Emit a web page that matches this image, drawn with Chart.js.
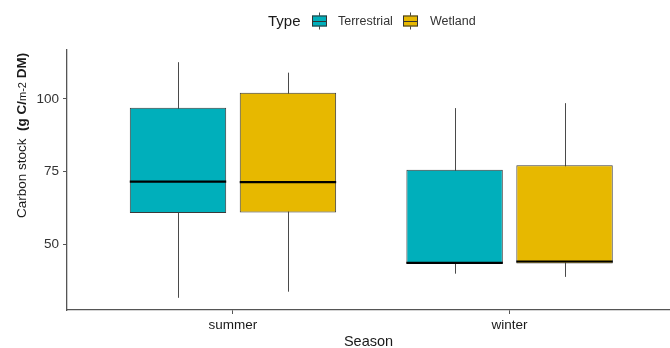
<!DOCTYPE html>
<html>
<head>
<meta charset="utf-8">
<script src="https://cdn.jsdelivr.net/npm/chart.js@4.4.1/dist/chart.umd.min.js"></script>
<style>
  html, body { margin: 0; padding: 0; background: #fff; overflow: hidden; }
  #wrap { width: 670px; height: 348px; }
</style>
</head>
<body>
<div id="wrap"><canvas id="c" width="670" height="348"></canvas></div>
<script>
// Season categories and box statistics per Type
const categories = ['summer', 'winter'];
const yTicks = [50, 75, 100];

const terrestrialMin    = [31.5, 39.8];
const terrestrialQ1     = [60.7, 43.3];
const terrestrialMedian = [71.5, 43.5];
const terrestrialQ3     = [96.9, 75.6];
const terrestrialMax    = [112.6, 96.8];

const wetlandMin    = [33.6, 38.7];
const wetlandQ1     = [60.9, 43.3];
const wetlandMedian = [71.3, 44.0];
const wetlandQ3     = [102.1, 77.1];
const wetlandMax    = [109.0, 98.5];

const TEAL = '#00AFBB';
const GOLD = '#E7B800';
const AXIS = '#555555';
const FONT = '"Liberation Sans", Arial, sans-serif';

function boxData(q1, q3) {
  return categories.map((c, i) => ({ x: i + 1, y: [q1[i], q3[i]] }));
}

const stats = [
  { min: terrestrialMin, median: terrestrialMedian, max: terrestrialMax },
  { min: wetlandMin, median: wetlandMedian, max: wetlandMax }
];

// whiskers behind the boxes, medians on top
const boxPlotPlugin = {
  id: 'boxPlot',
  beforeDatasetsDraw(chart) {
    const ctx = chart.ctx, y = chart.scales.y;
    ctx.save();
    ctx.strokeStyle = '#4a4a4a';
    ctx.lineWidth = 1;
    chart.data.datasets.forEach((ds, d) => {
      chart.getDatasetMeta(d).data.forEach((el, i) => {
        const x = Math.round(el.x) + 0.5;
        ctx.beginPath();
        ctx.moveTo(x, y.getPixelForValue(stats[d].max[i]));
        ctx.lineTo(x, y.getPixelForValue(stats[d].min[i]));
        ctx.stroke();
      });
    });
    ctx.restore();
  },
  afterDatasetsDraw(chart) {
    const ctx = chart.ctx, y = chart.scales.y;
    ctx.save();
    ctx.strokeStyle = '#000';
    ctx.lineWidth = 2.2;
    chart.data.datasets.forEach((ds, d) => {
      chart.getDatasetMeta(d).data.forEach((el, i) => {
        const py = y.getPixelForValue(stats[d].median[i]);
        const half = el.width / 2;
        ctx.beginPath();
        ctx.moveTo(el.x - half, py);
        ctx.lineTo(el.x + half, py);
        ctx.stroke();
      });
    });
    ctx.restore();
  }
};

// rotated y-axis title with mixed weights
const yTitlePlugin = {
  id: 'yTitle',
  afterDraw(chart) {
    const ctx = chart.ctx;
    const parts = [
      { t: 'Carbon stock  ', f: '13.5px ' + FONT },
      { t: '(g C/', f: 'bold 13.5px ' + FONT },
      { t: 'm-2', f: '11px ' + FONT },
      { t: ' DM)', f: 'bold 13.5px ' + FONT }
    ];
    ctx.save();
    ctx.translate(26, 218);
    ctx.rotate(-Math.PI / 2);
    ctx.fillStyle = '#1a1a1a';
    ctx.textBaseline = 'alphabetic';
    let x = 0;
    parts.forEach(p => {
      ctx.font = p.f;
      ctx.fillText(p.t, x, 0);
      x += ctx.measureText(p.t).width;
    });
    ctx.restore();
  }
};

// legend: "Type" followed by box-shaped keys
const legendPlugin = {
  id: 'typeLegend',
  afterDraw(chart) {
    const ctx = chart.ctx;
    const cy = 21;
    ctx.save();
    ctx.textBaseline = 'middle';
    ctx.fillStyle = '#1a1a1a';
    ctx.font = '15px ' + FONT;
    ctx.fillText('Type', 268, cy + 1);
    const keys = [
      { x: 312, color: TEAL, label: chart.data.datasets[0].label, lx: 338 },
      { x: 403, color: GOLD, label: chart.data.datasets[1].label, lx: 430 }
    ];
    keys.forEach(k => {
      const w = 15, h = 11, top = cy - h / 2;
      ctx.strokeStyle = '#4a4a4a';
      ctx.lineWidth = 1;
      ctx.beginPath();
      ctx.moveTo(k.x + w / 2, top - 3);
      ctx.lineTo(k.x + w / 2, top + h + 3);
      ctx.stroke();
      ctx.fillStyle = k.color;
      ctx.fillRect(k.x, top, w, h);
      ctx.strokeStyle = '#333';
      ctx.strokeRect(k.x + 0.5, top + 0.5, w - 1, h - 1);
      ctx.beginPath();
      ctx.moveTo(k.x, cy + 0.5);
      ctx.lineTo(k.x + w, cy + 0.5);
      ctx.stroke();
      ctx.fillStyle = '#333';
      ctx.font = '12.5px ' + FONT;
      ctx.fillText(k.label, k.lx, cy + 1);
    });
    ctx.restore();
  }
};

new Chart(document.getElementById('c'), {
  type: 'bar',
  data: {
    datasets: [
      { label: 'Terrestrial', data: boxData(terrestrialQ1, terrestrialQ3),
        backgroundColor: TEAL, borderColor: '#3a3a3a', borderWidth: 1, borderSkipped: false },
      { label: 'Wetland', data: boxData(wetlandQ1, wetlandQ3),
        backgroundColor: GOLD, borderColor: '#3a3a3a', borderWidth: 1, borderSkipped: false }
    ]
  },
  options: {
    responsive: false,
    animation: false,
    categoryPercentage: 0.795,
    barPercentage: 0.877,
    layout: { padding: { top: 50, left: 0, right: 0, bottom: 0 } },
    plugins: { legend: { display: false }, tooltip: { enabled: false } },
    scales: {
      x: {
        type: 'linear',
        offset: false,
        min: 0.4,
        max: 2.58,
        afterBuildTicks(s) { s.ticks = categories.map((c, i) => ({ value: i + 1 })); },
        afterFit(s) { s.height = 38; },
        ticks: {
          callback: (v) => categories[v - 1] || '',
          color: '#1a1a1a',
          font: { family: FONT, size: 13.5 },
          padding: 3,
          maxRotation: 0,
          autoSkip: false
        },
        grid: { display: true, offset: false, drawOnChartArea: false, drawTicks: true, tickLength: 4, color: AXIS },
        border: { display: true, color: AXIS, width: 1.3 },
        title: { display: true, text: 'Season', color: '#1a1a1a',
                 font: { family: FONT, size: 14.5 }, padding: { top: 0, bottom: -3 } }
      },
      y: {
        type: 'linear',
        min: 27.3,
        max: 116.8,
        afterBuildTicks(s) { s.ticks = yTicks.map(v => ({ value: v })); },
        afterFit(s) { s.width = 67; },
        ticks: {
          color: '#333',
          font: { family: FONT, size: 13.5 },
          padding: 4
        },
        grid: { display: true, drawOnChartArea: false, drawTicks: true, tickLength: 4, color: AXIS },
        border: { display: true, color: AXIS, width: 1.3 }
      }
    }
  },
  plugins: [boxPlotPlugin, yTitlePlugin, legendPlugin]
});
</script>
</body>
</html>
